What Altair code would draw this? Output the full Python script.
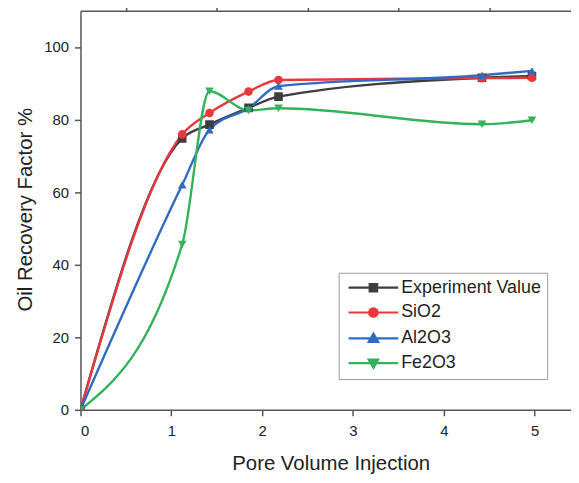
import altair as alt
import pandas as pd

series_names = ["Experiment Value", "SiO2", "Al2O3", "Fe2O3"]
colors = ["#3d3d3d", "#e8383d", "#2f6bc5", "#33b25b"]
marker_shapes = ["square", "circle", "triangle-up", "triangle-down"]

pv_experiment = [0, 1.12, 1.42, 1.85, 2.18, 4.42, 4.97]
orf_experiment = [0, 74.8, 78.6, 83.2, 86.3, 91.5, 92.0]
pv_sio2 = [0, 1.12, 1.42, 1.85, 2.18, 4.42, 4.97]
orf_sio2 = [0, 75.9, 81.8, 87.7, 90.9, 91.4, 91.5]
pv_al2o3 = [0, 1.12, 1.42, 1.85, 2.18, 4.42, 4.97]
orf_al2o3 = [0, 62.0, 77.2, 83.1, 89.2, 92.2, 93.4]
pv_fe2o3 = [0, 1.12, 1.42, 1.85, 2.18, 4.42, 4.97]
orf_fe2o3 = [0, 45.6, 87.8, 82.5, 83.1, 78.7, 79.8]

x_major = [0, 1, 2, 3, 4, 5]
x_minor = [0.5, 1.5, 2.5, 3.5, 4.5]
y_major = [0, 20, 40, 60, 80, 100]
y_minor = [10, 30, 50, 70, 90]

rows = []
for name, xs, ys in [
    ("Experiment Value", pv_experiment, orf_experiment),
    ("SiO2", pv_sio2, orf_sio2),
    ("Al2O3", pv_al2o3, orf_al2o3),
    ("Fe2O3", pv_fe2o3, orf_fe2o3),
]:
    for xv, yv in zip(xs, ys):
        rows.append({"series": name, "pv": xv, "orf": yv})
df = pd.DataFrame(rows)

# legend symbols: line with marker (path units scaled by sqrt(size)/2)
legend_paths = [
    "M-1,0H9M3.25,-0.75H4.75V0.75H3.25Z",
    "M-1,0H9M4.85,0A0.85,0.85,0,1,1,3.15,0A0.85,0.85,0,1,1,4.85,0Z",
    "M-1,0H9M4,-0.95L4.95,0.7H3.05Z",
    "M-1,0H9M4,0.95L4.95,-0.7H3.05Z",
]

FONT = "Liberation Sans"
AX = dict(domainColor="#555555", domainWidth=1.5, tickColor="#555555", tickWidth=1.5,
          labelFont=FONT, labelFontSize=15, labelColor="#222222", grid=False,
          titleFont=FONT, titleFontSize=20.5, titleFontWeight="normal", titleColor="#222222")

xscale = alt.Scale(domain=[0, 5.4], nice=False, zero=False)
yscale = alt.Scale(domain=[0, 110], nice=False)
color_scale = alt.Scale(domain=series_names, range=colors)

lines = alt.Chart(df).mark_line(
    interpolate="monotone", strokeWidth=2.4, clip=True
).encode(
    x=alt.X("pv:Q", scale=xscale, axis=alt.Axis(
        values=x_major, tickSize=6, labelPadding=8, title="Pore Volume Injection",
        titleX=252, titleY=60, titleBaseline="alphabetic", titleAlign="center", **AX)),
    y=alt.Y("orf:Q", scale=yscale, axis=alt.Axis(
        values=y_major, tickSize=6, labelPadding=6, title="Oil Recovery Factor %",
        titleX=-49, titleY=200, titleBaseline="alphabetic", titleAlign="center", **AX)),
    color=alt.Color("series:N", scale=color_scale, legend=None),
    detail="series:N",
)

points = alt.Chart(df).mark_point(
    filled=True, opacity=1, size=75, clip=True
).encode(
    x=alt.X("pv:Q", scale=xscale, axis=alt.Axis(
        values=x_minor, tickSize=4, labels=False, domain=False, title=None, **AX)),
    y=alt.Y("orf:Q", scale=yscale, axis=alt.Axis(
        values=y_minor, tickSize=4, labels=False, domain=False, title=None, **AX)),
    color=alt.Color("series:N", scale=color_scale, legend=None),
    shape=alt.Shape("series:N", scale=alt.Scale(domain=series_names, range=marker_shapes), legend=None),
)

legend_layer = alt.Chart(df).transform_filter("false").mark_point(
    filled=True, opacity=1, strokeWidth=2.2
).encode(
    x=alt.X("pv:Q", scale=xscale, axis=alt.Axis(
        orient="top", ticks=False, labels=False, domain=True, title=None, **AX)),
    y=alt.Y("orf:Q", scale=yscale, axis=None),
    fill=alt.Fill("series:N", scale=alt.Scale(domain=series_names, range=colors),
                  legend=alt.Legend(title=None)),
    stroke=alt.Stroke("series:N", scale=alt.Scale(domain=series_names, range=colors),
                      legend=alt.Legend(title=None)),
    shape=alt.Shape("series:N", scale=alt.Scale(domain=series_names, range=legend_paths),
                    legend=alt.Legend(
                        title=None, orient="none", legendX=260, legendY=264,
                        symbolSize=100, symbolStrokeWidth=2.2, labelOffset=39,
                        labelFontSize=18, labelFont=FONT, labelColor="#222222",
                        rowPadding=7, padding=6, strokeColor="#9a9a9a", fillColor="white",
                        labelLimit=300)),
)

chart = alt.layer(lines, points, legend_layer).resolve_axis(
    x="independent", y="independent"
).resolve_scale(
    fill="independent", stroke="independent", shape="independent"
).resolve_legend(
    fill="independent", stroke="independent", shape="independent"
).properties(
    width=494, height=402,
    autosize=alt.AutoSizeParams(type="none"),
    padding={"left": 73, "top": 1, "right": 0, "bottom": 70},
    background="white",
).configure_view(stroke=None)

chart.save("out.html", embed_options={"renderer": "svg", "actions": False})
